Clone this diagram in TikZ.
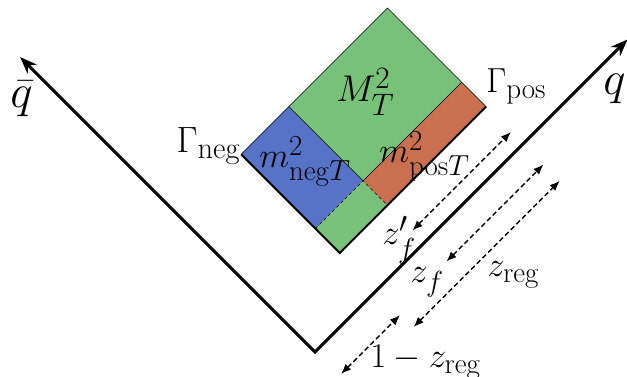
\documentclass[tikz,border=0pt]{standalone}
\usepackage{amsmath}
\usetikzlibrary{arrows.meta}
\definecolor{regGreen}{RGB}{119,193,120}
\definecolor{negBlue}{RGB}{86,115,200}
\definecolor{posOrange}{RGB}{203,112,79}
\tikzset{
  axis/.style={line width=3pt,line join=miter,{Stealth[length=17pt,width=13pt]}-{Stealth[length=17pt,width=13pt]}},
  span/.style={line width=1.4pt,dash pattern=on 5pt off 3pt,{Latex[length=10pt,width=8pt]}-{Latex[length=10pt,width=8pt]}},
  lbl/.style={font=\Huge,scale=1.4,inner sep=0pt},
  biglbl/.style={font=\Huge,scale=1.9,inner sep=0pt},
}

\begin{document}
\begin{tikzpicture}[x=1pt,y=1pt]
        \useasboundingbox (0,0) rectangle (627,377);
        \begin{scope}[shift={(315,25)},rotate=45]
        % Light-cone axes and corners of the region
        \coordinate (O) at (0,0);
        \coordinate (Q) at (442,0);
        \coordinate (Qb) at (0,417);
        \coordinate (B) at (87.5,52.5);  \coordinate (R) at (294.5,52.5);
        \coordinate (T) at (294.5,192);  \coordinate (L) at (87.5,192);
        \coordinate (C) at (155,87);
        \coordinate (Nt) at (155,192);   \coordinate (Nb) at (87.5,87);
        \coordinate (Pt) at (294.5,87);  \coordinate (Pb) at (155,52.5);

        % Fill the regions
        \fill[regGreen] (B) -- (R) -- (T) -- (L) -- cycle;
        \fill[negBlue] (Nb) -- (C) -- (Nt) -- (L) -- cycle;
        \fill[posOrange] (Pb) -- (R) -- (Pt) -- (C) -- cycle;
        \draw[line width=0.6pt] (L) -- (T) -- (R); \draw[line width=0.6pt] (Nt) -- (C) -- (Pt);
        \draw[line width=0.6pt,dashed] (Nb) -- (C) -- (Pb);
        \draw[line width=1.8pt,line join=miter] (L) -- (B) -- (R);

        % Axes
        \draw[axis] (Qb) -- (O) -- (Q);

        % Dimensions
        \coordinate (ZfpA) at (155,17);   \coordinate (ZfpB) at (294,17);
        \coordinate (ZfA) at (157,-29);   \coordinate (ZfB) at (294,-29);
        \coordinate (ZrA) at (87.5,-52);  \coordinate (ZrB) at (294,-52);
        \coordinate (ZoA) at (3,-34);     \coordinate (ZoB) at (86,-34);
        \draw[span] (ZfpA) -- (ZfpB);
        \draw[span] (ZfA) -- (ZfB);
        \draw[span] (ZrA) -- (ZrB);
        \draw[span] (ZoA) -- (ZoB);
        \end{scope}

        % Labels
        \node[biglbl,anchor=base west] (qbar) at (10,269) {$\bar{q}$};
        \node[biglbl,anchor=base west] (q) at (603,282) {$q$};
        \node[lbl,scale=1.05,anchor=base east] (gneg) at (241,224) {$\Gamma_{\mathrm{neg}}$};
        \node[lbl,anchor=base west] (gpos) at (486,284) {$\Gamma_{\mathrm{pos}}$};
        \node[lbl,scale=1.07,anchor=base west] (MT) at (336,275) {$M_T^2$};
        \node[lbl,anchor=base west] (mneg) at (259,209) {$m^2_{\mathrm{neg}T}$};
        \node[lbl,anchor=base west] (mpos) at (379,214) {$m^2_{\mathrm{pos}T}$};
        \node[lbl,anchor=base west] (zfp) at (382,132) {$z'_f$};
        \node[lbl,anchor=base west] (zf) at (410,94) {$z_f$};
        \node[lbl,anchor=base west] (zreg) at (487,100) {$z_{\mathrm{reg}}$};
        \node[lbl,anchor=base west] (zone) at (370,9) {$1-z_{\mathrm{reg}}$};
\end{tikzpicture}
\end{document}
